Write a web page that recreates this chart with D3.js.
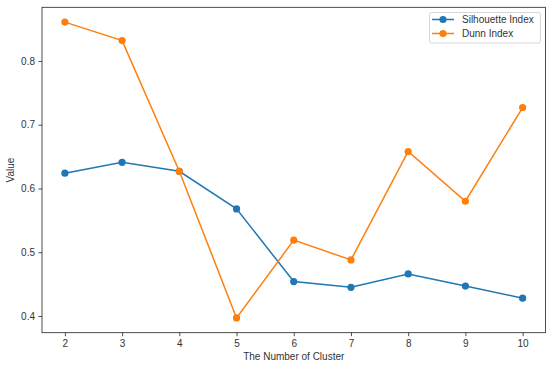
<!DOCTYPE html>
<html>
<head>
<meta charset="utf-8">
<script src="https://cdn.jsdelivr.net/npm/d3@7"></script>
<style>
  body { margin: 0; background: #fff; }
  svg { display: block; font-family: "Liberation Sans", Arial, sans-serif; }
</style>
</head>
<body>
<div id="chart"></div>
<script>
// 数据
const clusters = [2, 3, 4, 5, 6, 7, 8, 9, 10];
const silhouette = [0.624, 0.641, 0.627, 0.568, 0.454, 0.445, 0.466, 0.447, 0.428];
const dunn = [0.861, 0.832, 0.627, 0.397, 0.519, 0.488, 0.658, 0.580, 0.727];
const yTicks = [0.4, 0.5, 0.6, 0.7, 0.8];
const seriesNames = ['Silhouette Index', 'Dunn Index'];
const colors = ['#1f77b4', '#ff7f0e'];

const width = 551, height = 369;
const margin = { top: 7.3, right: 5.5, bottom: 36.3, left: 42 };
const fontFamily = '"Liberation Sans", Arial, sans-serif';

const svg = d3.select('#chart').append('svg')
    .attr('width', width)
    .attr('height', height);

// 比例尺 (matplotlib 风格 5% 边距)
const xPad = (d3.max(clusters) - d3.min(clusters)) * 0.05;
const x = d3.scaleLinear()
    .domain([d3.min(clusters) - xPad, d3.max(clusters) + xPad])
    .range([margin.left, width - margin.right]);

const allVals = silhouette.concat(dunn);
const yMin = d3.min(allVals), yMax = d3.max(allVals);
const yPad = (yMax - yMin) * 0.05;
const y = d3.scaleLinear()
    .domain([yMin - yPad, yMax + yPad])
    .range([height - margin.bottom, margin.top]);

// 坐标轴
const xAxis = svg.append('g')
    .attr('transform', `translate(0,${height - margin.bottom})`)
    .call(d3.axisBottom(x).tickValues(clusters).tickSize(3.5).tickPadding(3.5).tickFormat(d3.format('d')));

const yAxis = svg.append('g')
    .attr('transform', `translate(${margin.left},0)`)
    .call(d3.axisLeft(y).tickValues(yTicks).tickSize(3.5).tickPadding(3.5).tickFormat(d3.format('.1f')));

[xAxis, yAxis].forEach(g => {
    g.select('.domain').remove();
    g.selectAll('line').attr('stroke', '#222').attr('stroke-width', 0.8);
    g.selectAll('text').attr('fill', '#333').attr('font-size', '10px')
        .attr('font-family', fontFamily);
});

// 边框
svg.append('rect')
    .attr('x', margin.left)
    .attr('y', margin.top)
    .attr('width', width - margin.right - margin.left)
    .attr('height', height - margin.bottom - margin.top)
    .attr('fill', 'none')
    .attr('stroke', '#222')
    .attr('stroke-width', 0.8);

// 轴标签
svg.append('text')
    .attr('x', (margin.left + width - margin.right) / 2)
    .attr('y', 360)
    .attr('text-anchor', 'middle')
    .attr('font-size', '10px')
    .attr('fill', '#333')
    .text('The Number of Cluster');

svg.append('text')
    .attr('transform', `translate(14,${(margin.top + height - margin.bottom) / 2}) rotate(-90)`)
    .attr('text-anchor', 'middle')
    .attr('font-size', '10px')
    .attr('fill', '#333')
    .text('Value');

// 折线
const line = d3.line()
    .x((d, i) => x(clusters[i]))
    .y(d => y(d));

[silhouette, dunn].forEach((series, k) => {
    svg.append('path')
        .datum(series)
        .attr('d', line)
        .attr('fill', 'none')
        .attr('stroke', colors[k])
        .attr('stroke-width', 1.5);

    svg.selectAll(null)
        .data(series)
        .enter()
        .append('circle')
        .attr('cx', (d, i) => x(clusters[i]))
        .attr('cy', d => y(d))
        .attr('r', 3.6)
        .attr('fill', colors[k]);
});

// 图例
const legend = svg.append('g');
legend.append('rect')
    .attr('x', 429.5)
    .attr('y', 12.5)
    .attr('width', 111)
    .attr('height', 30.5)
    .attr('rx', 2)
    .attr('fill', '#fff')
    .attr('fill-opacity', 0.8)
    .attr('stroke', '#ccc')
    .attr('stroke-width', 0.8);

seriesNames.forEach((name, k) => {
    const ly = 19.5 + k * 14;
    legend.append('line')
        .attr('x1', 432).attr('x2', 454)
        .attr('y1', ly).attr('y2', ly)
        .attr('stroke', colors[k])
        .attr('stroke-width', 1.5);
    legend.append('circle')
        .attr('cx', 443).attr('cy', ly)
        .attr('r', 3.6)
        .attr('fill', colors[k]);
    legend.append('text')
        .attr('x', 462)
        .attr('y', ly)
        .attr('dy', '0.35em')
        .attr('font-size', '10px')
        .attr('fill', '#333')
        .text(name);
});
</script>
</body>
</html>
